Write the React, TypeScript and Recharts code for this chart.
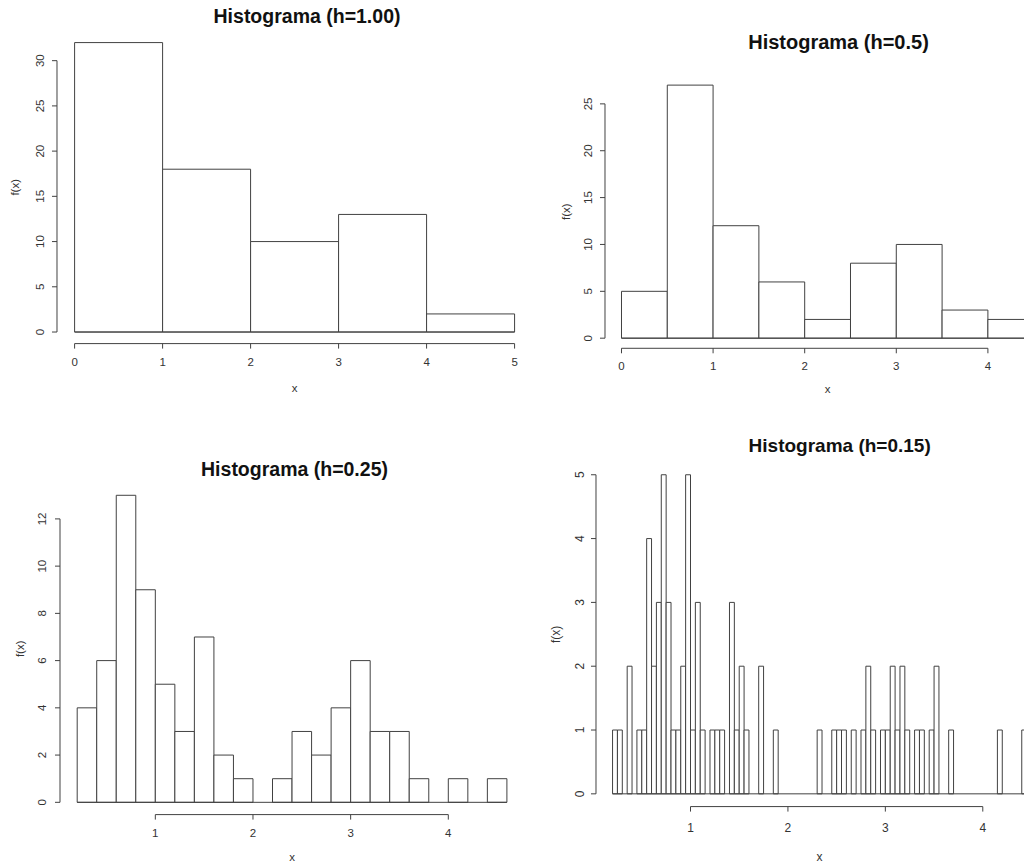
import React from 'react';
import { ComposedChart, Bar, XAxis, YAxis, ReferenceLine } from 'recharts';

// ---- h = 1.00 ----
const firstBreakH100 = 0;
const binWidthH100 = 1;
const countsH100 = [32, 18, 10, 13, 2];
const xTicksH100 = [0, 1, 2, 3, 4, 5];
const yTicksH100 = [0, 5, 10, 15, 20, 25, 30];

// ---- h = 0.5 ----
const firstBreakH050 = 0;
const binWidthH050 = 0.5;
const countsH050 = [5, 27, 12, 6, 2, 8, 10, 3, 2];
const xTicksH050 = [0, 1, 2, 3, 4];
const yTicksH050 = [0, 5, 10, 15, 20, 25];

// ---- h = 0.25 (breaks every 0.2) ----
const firstBreakH025 = 0.2;
const binWidthH025 = 0.2;
const countsH025 = [4, 6, 13, 9, 5, 3, 7, 2, 1, 0, 1, 3, 2, 4, 6, 3, 3, 1, 0, 1, 0, 1];
const xTicksH025 = [1, 2, 3, 4];
const yTicksH025 = [0, 2, 4, 6, 8, 10, 12];

// ---- h = 0.15 (breaks every 0.05) ----
const firstBreakH015 = 0.2;
const binWidthH015 = 0.05;
const countsH015 = [
  1, 1, 0, 2, 0, 1, 1, 4, 2, 3,
  5, 3, 1, 1, 2, 5, 1, 3, 1, 0,
  1, 1, 1, 0, 3, 1, 2, 1, 0, 0,
  2, 0, 0, 1, 0, 0, 0, 0, 0, 0,
  0, 0, 1, 0, 0, 1, 1, 1, 0, 1,
  0, 1, 2, 1, 0, 1, 1, 2, 1, 2,
  1, 0, 1, 1, 0, 1, 2, 0, 0, 1,
  0, 0, 0, 0, 0, 0, 0, 0, 0, 1,
  0, 0, 0, 0, 1,
];
const xTicksH015 = [1, 2, 3, 4];
const yTicksH015 = [0, 1, 2, 3, 4, 5];

const FONT = "'Liberation Sans', Arial, Helvetica, sans-serif";
const LINE = '#404040';
const TEXT = '#333333';
const AXIS_W = 60;
const AXIS_H = 60;
const TICK = 5;

const XTick = (props: any) => {
  const { x, y, payload, dist, fs } = props;
  return (
    <text x={x} y={y - TICK + dist} textAnchor="middle" dominantBaseline="central"
      fontFamily={FONT} fontSize={fs} fill={TEXT}>
      {payload.value}
    </text>
  );
};

const YTick = (props: any) => {
  const { x, y, payload, dist, fs } = props;
  const cx = x + TICK - dist;
  return (
    <text x={cx} y={y} transform={`rotate(-90 ${cx} ${y})`} textAnchor="middle"
      dominantBaseline="central" fontFamily={FONT} fontSize={fs} fill={TEXT}>
      {payload.value}
    </text>
  );
};

const XTitle = (props: any) => {
  const { viewBox, dist, fs } = props;
  const { x, y, width } = viewBox;
  return (
    <text x={x + width / 2} y={y + dist} textAnchor="middle" dominantBaseline="central"
      fontFamily={FONT} fontSize={fs} fill={TEXT}>
      x
    </text>
  );
};

const YTitle = (props: any) => {
  const { viewBox, dist, fs } = props;
  const { x, y, width, height } = viewBox;
  const cx = x + width - dist;
  const cy = y + height / 2;
  return (
    <text x={cx} y={cy} transform={`rotate(-90 ${cx} ${cy})`} textAnchor="middle"
      dominantBaseline="central" fontFamily={FONT} fontSize={fs} fill={TEXT}>
      f(x)
    </text>
  );
};

type PanelProps = {
  first: number;
  width: number;
  counts: number[];
  xTicks: number[];
  yTicks: number[];
  left: number;
  top: number;
  plotW: number;
  plotH: number;
  xTickDist: number;
  xTitleDist: number;
  yTickDist: number;
  yTitleDist: number;
  fs: number;
};

function HistPanel(p: PanelProps) {
  const data = p.counts.map((count, i) => ({ mid: p.first + (i + 0.5) * p.width, count }));
  const last = p.first + p.width * p.counts.length;
  const span = last - p.first;
  // R-style 4% expansion of the data range on both axes
  const xDomain: [number, number] = [p.first - 0.04 * span, last + 0.04 * span];
  const maxCount = Math.max(...p.counts);
  const yDomain: [number, number] = [-0.04 * maxCount, 1.04 * maxCount];
  const barPct = ((100 * p.width) / (xDomain[1] - xDomain[0])) * 0.99999;
  const W = p.plotW + AXIS_W;
  const H = p.plotH + AXIS_H;
  const xt0 = p.xTicks[0];
  const xt1 = p.xTicks[p.xTicks.length - 1];
  const yt0 = p.yTicks[0];
  const yt1 = p.yTicks[p.yTicks.length - 1];
  return (
    <div style={{ position: 'absolute', left: p.left - AXIS_W, top: p.top }}>
      <ComposedChart width={W} height={H} data={data}
        margin={{ top: 0, right: 0, bottom: 0, left: 0 }} barCategoryGap={0} barGap={0}>
        <XAxis type="number" dataKey="mid" domain={xDomain} ticks={p.xTicks} allowDataOverflow
          interval={0} axisLine={false} tickSize={TICK} tickMargin={0} height={AXIS_H}
          tickLine={{ stroke: LINE }}
          tick={<XTick dist={p.xTickDist} fs={p.fs} />}
          label={<XTitle dist={p.xTitleDist} fs={p.fs} />} />
        <YAxis type="number" domain={yDomain} ticks={p.yTicks} allowDataOverflow
          interval={0} axisLine={false} tickSize={TICK} tickMargin={0} width={AXIS_W}
          tickLine={{ stroke: LINE }}
          tick={<YTick dist={p.yTickDist} fs={p.fs} />}
          label={<YTitle dist={p.yTitleDist} fs={p.fs} />} />
        <Bar dataKey="count" fill="#ffffff" stroke={LINE} strokeWidth={1}
          barSize={`${barPct}%`} isAnimationActive={false} />
        <ReferenceLine segment={[{ x: p.first, y: 0 }, { x: last, y: 0 }]}
          stroke={LINE} strokeWidth={1} ifOverflow="visible" />
        <ReferenceLine segment={[{ x: xt0, y: yDomain[0] }, { x: xt1, y: yDomain[0] }]}
          stroke={LINE} strokeWidth={1} ifOverflow="visible" />
        <ReferenceLine segment={[{ x: xDomain[0], y: yt0 }, { x: xDomain[0], y: yt1 }]}
          stroke={LINE} strokeWidth={1} ifOverflow="visible" />
      </ComposedChart>
    </div>
  );
}

const titleStyle = { fontFamily: FONT, fontWeight: 700, fill: '#111111' } as const;

export default function App() {
  return (
    <div style={{ position: 'fixed', left: 0, top: 0, width: 1024, height: 862, overflow: 'hidden', background: '#ffffff' }}>
      <HistPanel first={firstBreakH100} width={binWidthH100} counts={countsH100}
        xTicks={xTicksH100} yTicks={yTicksH100}
        left={57.4} top={31.0} plotW={475.2} plotH={312.6}
        xTickDist={18.4} xTitleDist={44.4} yTickDist={17.4} yTitleDist={42.4} fs={11.5} />
      <HistPanel first={firstBreakH050} width={binWidthH050} counts={countsH050}
        xTicks={xTicksH050} yTicks={yTicksH050}
        left={604.8} top={75.1} plotW={445.2} plotH={273.3}
        xTickDist={17.6} xTitleDist={40.6} yTickDist={16.5} yTitleDist={39} fs={11.5} />
      <HistPanel first={firstBreakH025} width={binWidthH025} counts={countsH025}
        xTicks={xTicksH025} yTicks={yTicksH025}
        left={59.7} top={483.4} plotW={464.1} plotH={331.6}
        xTickDist={18.3} xTitleDist={42} yTickDist={17.7} yTitleDist={39.7} fs={11.5} />
      <HistPanel first={firstBreakH015} width={binWidthH015} counts={countsH015}
        xTicks={xTicksH015} yTicks={yTicksH015}
        left={595.5} top={461.5} plotW={447.2} plotH={344.6}
        xTickDist={21} xTitleDist={50} yTickDist={16} yTitleDist={39.5} fs={12} />
      <svg width={1024} height={862} style={{ position: 'absolute', left: 0, top: 0, pointerEvents: 'none' }}>
        <text x={307} y={23.3} textAnchor="middle" fontSize={19.5} style={titleStyle}>Histograma (h=1.00)</text>
        <text x={838.5} y={48.5} textAnchor="middle" fontSize={20} style={titleStyle}>Histograma (h=0.5)</text>
        <text x={294.5} y={476} textAnchor="middle" fontSize={19.5} style={titleStyle}>Histograma (h=0.25)</text>
        <text x={839.7} y={452} textAnchor="middle" fontSize={19} style={titleStyle}>Histograma (h=0.15)</text>
      </svg>
    </div>
  );
}
